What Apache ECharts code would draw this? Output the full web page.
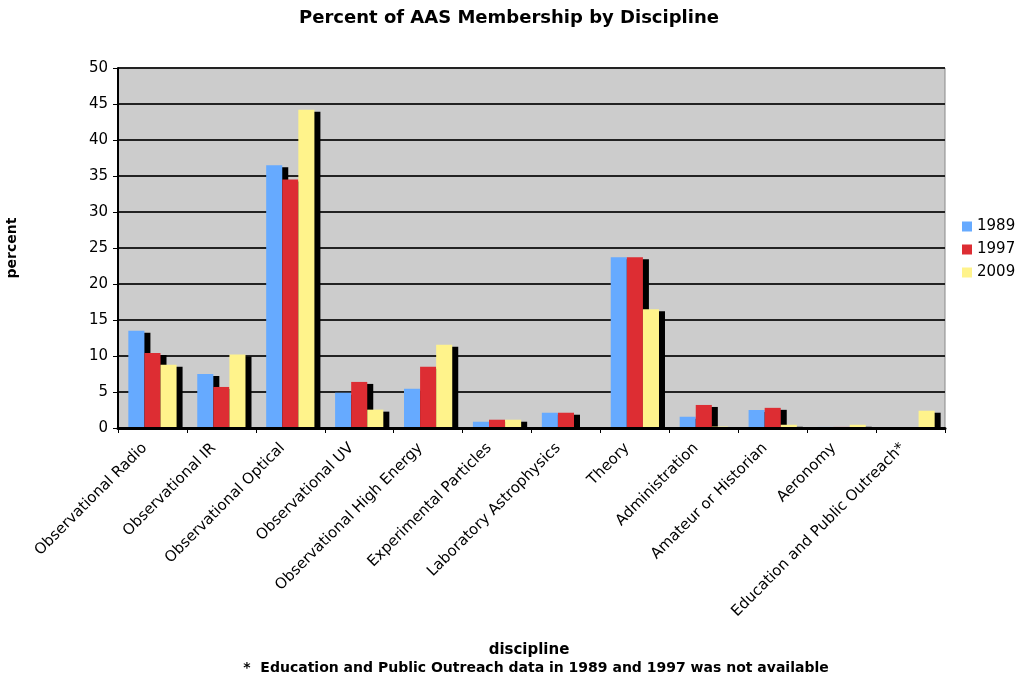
<!DOCTYPE html>
<html>
<head>
<meta charset="utf-8">
<script src="https://cdn.jsdelivr.net/npm/echarts@6/dist/echarts.min.js"></script>
<style>
html,body{margin:0;padding:0;background:#fff;}
#chart{width:1021px;height:677px;}
</style>
</head>
<body>
<div id="chart"></div>
<script>
var categories = [
  "Observational Radio", "Observational IR", "Observational Optical", "Observational UV",
  "Observational High Energy", "Experimental Particles", "Laboratory Astrophysics", "Theory",
  "Administration", "Amateur or Historian", "Aeronomy", "Education and Public Outreach*"
];
var values1989 = [13.5, 7.5, 36.5, 4.9, 5.45, 0.87, 2.12, 23.7, 1.56, 2.5, 0.15, null];
var values1997 = [10.4, 5.7, 34.5, 6.4, 8.5, 1.15, 2.12, 23.7, 3.2, 2.8, 0.15, null];
var values2009 = [8.8, 10.2, 44.2, 2.55, 11.55, 1.15, 0, 16.5, 0.2, 0.45, 0.45, 2.4];
var yTicks = [0, 5, 10, 15, 20, 25, 30, 35, 40, 45, 50];

var FONT = "'DejaVu Sans', Verdana, sans-serif";
var chart = echarts.init(document.getElementById('chart'), null, {renderer: 'canvas'});

function barSeries(name, data, color) {
  return {
    name: name,
    type: 'bar',
    data: data,
    barGap: '0%',
    barCategoryGap: '30%',
    itemStyle: {
      color: color,
      shadowColor: '#000',
      shadowBlur: 0,
      shadowOffsetX: 6,
      shadowOffsetY: 2
    },
    emphasis: {disabled: true},
    animation: false
  };
}

chart.setOption({
  animation: false,
  title: [{
    text: 'Percent of AAS Membership by Discipline',
    left: 504, top: 4, textAlign: 'center',
    textStyle: {fontFamily: FONT, fontSize: 18, fontWeight: 'bold', color: '#000'}
  }, {
    text: 'discipline',
    left: 524, top: 638, textAlign: 'center',
    textStyle: {fontFamily: FONT, fontSize: 15, fontWeight: 'bold', color: '#000'}
  }, {
    text: '*  Education and Public Outreach data in 1989 and 1997 was not available',
    left: 531, top: 656, textAlign: 'center',
    textStyle: {fontFamily: FONT, fontSize: 14, fontWeight: 'bold', color: '#000'}
  }],
  legend: {
    orient: 'vertical',
    left: 957, top: 214,
    itemWidth: 10, itemHeight: 10, itemGap: 8,
    icon: 'rect',
    textStyle: {fontFamily: FONT, fontSize: 15, color: '#000'},
    data: ['1989', '1997', '2009']
  },
  grid: {
    left: 118, right: 76, top: 68, bottom: 249,
    show: true, backgroundColor: '#cccccc', borderColor: '#888', borderWidth: 1,
    containLabel: false,
    outerBoundsMode: 'none'
  },
  xAxis: {
    type: 'category',
    data: categories,
    boundaryGap: true,
    z: 5,
    axisLine: {lineStyle: {color: '#000', width: 3}},
    axisTick: {show: true, length: 5, lineStyle: {color: '#000', width: 1}, alignWithLabel: false},
    axisLabel: {
      interval: 0, rotate: 45, margin: 10,
      padding: [0, 11, 0, 0],
      fontFamily: FONT, fontSize: 15, color: '#000'
    },
    splitLine: {show: false}
  },
  yAxis: {
    type: 'value',
    min: yTicks[0], max: yTicks[yTicks.length - 1], interval: 5,
    name: 'percent',
    nameLocation: 'middle',
    nameGap: 99,
    nameRotate: 90,
    nameTextStyle: {fontFamily: FONT, fontSize: 14, fontWeight: 'bold', color: '#000'},
    axisLine: {show: true, lineStyle: {color: '#000', width: 2}},
    axisTick: {show: true, length: 5, lineStyle: {color: '#000'}},
    axisLabel: {fontFamily: FONT, fontSize: 15, color: '#000', margin: 10},
    splitLine: {show: true, lineStyle: {color: '#222', width: 2}}
  },
  series: [
    barSeries('1989', values1989, '#66aaff'),
    barSeries('1997', values1997, '#dd2d33'),
    barSeries('2009', values2009, '#fff38b')
  ]
});
</script>
</body>
</html>
